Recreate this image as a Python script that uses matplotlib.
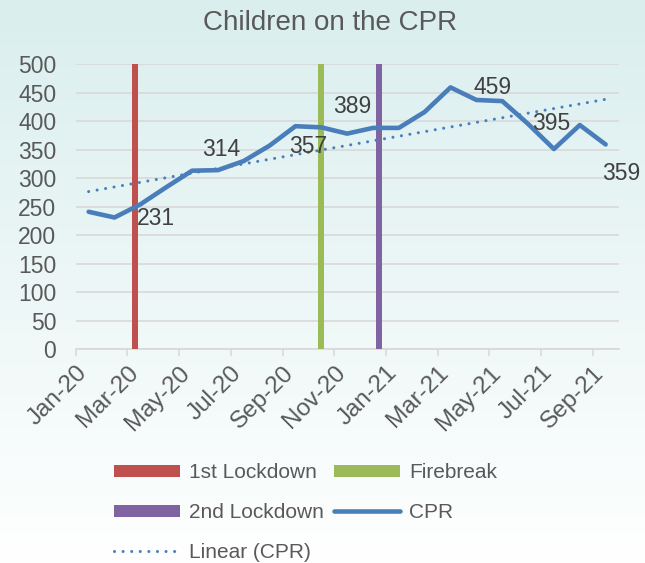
import numpy as np
import matplotlib
matplotlib.use("Agg")
from matplotlib import pyplot as plt
from matplotlib.colors import LinearSegmentedColormap
from matplotlib.lines import Line2D
from matplotlib.patches import Patch
from matplotlib.transforms import ScaledTranslation

# monthly children on the CPR, Jan-20 .. Sep-21
months = ["Jan-20", "Feb-20", "Mar-20", "Apr-20", "May-20", "Jun-20", "Jul-20",
          "Aug-20", "Sep-20", "Oct-20", "Nov-20", "Dec-20", "Jan-21", "Feb-21",
          "Mar-21", "Apr-21", "May-21", "Jun-21", "Jul-21", "Aug-21", "Sep-21"]
cpr = [241, 231, 254, 284, 313, 314, 330, 357, 391, 389, 378, 388, 388, 416,
       459, 437, 435, 395, 351, 393, 359]
labelled = ["Feb-20", "Jun-20", "Aug-20", "Oct-20", "Mar-21", "Jun-21", "Sep-21"]

events = ["1st Lockdown", "Firebreak", "2nd Lockdown"]
event_months = ["Mar-20", "Oct-20", "Dec-20"]
event_height = [500, 500, 500]

plt.rcParams["font.family"] = ["Liberation Sans", "DejaVu Sans"]
txt = "#595959"

fig = plt.figure(figsize=(6.45, 5.63), dpi=100)

# background gradient
bg = fig.add_axes([0, 0, 1, 1], zorder=-10)
grad = np.linspace(0, 1, 256).reshape(-1, 1)
cmap = LinearSegmentedColormap.from_list("bg", ["#daeeee", "#ffffff"])
bg.imshow(grad, aspect="auto", cmap=cmap, extent=[0, 1, 0, 1])
bg.axis("off")

ax = fig.add_axes([0.1174, 0.3796, 0.8416, 0.5067])
ax.patch.set_alpha(0)

x = np.arange(len(months))
idx = {m: i for i, m in enumerate(months)}

bar_colors = ["#c0504d", "#9bbb59", "#8064a2"]
bw = 0.22
offs = [-bw, 0, bw]
handles = []
for name, m, h, c, o in zip(events, event_months, event_height, bar_colors, offs):
    ax.bar(idx[m] + o, h, width=bw, color=c, zorder=3)
    handles.append(Patch(facecolor=c, label=name))

blue = "#4a7ebb"
ax.plot(x, cpr, color=blue, lw=3.3, solid_capstyle="round", solid_joinstyle="round", zorder=4)
k, b = np.polyfit(x, cpr, 1)
ax.plot(x, k * x + b, color=blue, lw=2.2, linestyle=(0, (0.01, 2.8)),
        dash_capstyle="round", zorder=4)

# data labels
label_off = [(29.5, -0.5), (2, 15), (28, -1), (22.5, 15), (30, 0), (17, 0), (11.5, -21)]
for m, (dx, dy) in zip(labelled, label_off):
    i = idx[m]
    ax.annotate(str(cpr[i]), (i, cpr[i]), xytext=(dx, dy), textcoords="offset points",
                ha="center", va="center", fontsize=16.5, color="#404040", zorder=5)

ax.set_xlim(-0.5, len(months) - 0.5)
ax.set_ylim(0, 500)
ax.set_yticks(np.arange(0, 501, 50))
ax.set_xticks(np.arange(-0.5, len(months) - 0.5, 2))
ax.set_xticklabels(months[::2], rotation=45, ha="right", rotation_mode="anchor")
shift = ScaledTranslation(0.15, -0.07, fig.dpi_scale_trans)
for t in ax.get_xticklabels():
    t.set_transform(t.get_transform() + shift)
ax.tick_params(axis="x", length=5, width=1.2, color="#d9d9d9", labelsize=17.5, labelcolor=txt, pad=4)
ax.tick_params(axis="y", length=0, labelsize=16.5, labelcolor=txt, pad=14)
ax.grid(axis="y", color="#d9d9d9", lw=1.2, zorder=0)
ax.set_axisbelow(True)
for s in ["top", "right", "left"]:
    ax.spines[s].set_visible(False)
ax.spines["bottom"].set_color("#d9d9d9")
ax.spines["bottom"].set_linewidth(1.2)

fig.text(0.512, 0.96, "Children on the CPR", ha="center", va="center", fontsize=20, color=txt)

cpr_h = Line2D([], [], color=blue, lw=3.3, solid_capstyle="round", label="CPR")
lin_h = Line2D([], [], color=blue, lw=2.2, linestyle=(0, (0.01, 2.8)),
               dash_capstyle="round", label="Linear (CPR)")
order = [handles[0], handles[2], lin_h, handles[1], cpr_h]
fig.legend(handles=order, loc="upper left", bbox_to_anchor=(0.176, 0.177),
           ncol=2, frameon=False, fontsize=15, labelcolor=txt,
           handlelength=3.2, handleheight=0.55, handletextpad=0.4,
           columnspacing=0.5, labelspacing=1.0, borderaxespad=0, borderpad=0)

fig.savefig("out.png", dpi=100)
